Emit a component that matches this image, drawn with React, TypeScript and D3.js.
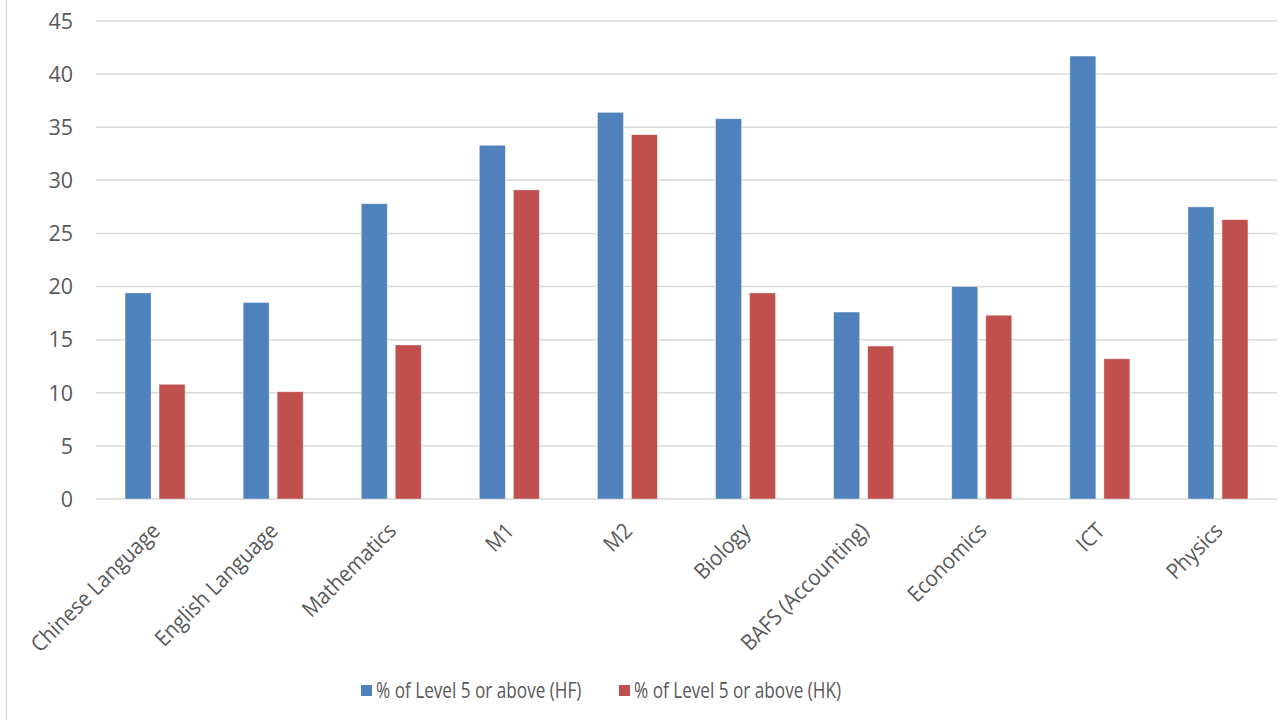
import * as d3 from "d3";

const categories = [
  "Chinese Language",
  "English Language",
  "Mathematics",
  "M1",
  "M2",
  "Biology",
  "BAFS (Accounting)",
  "Economics",
  "ICT",
  "Physics",
];
const seriesNames = ["% of Level 5 or above (HF)", "% of Level 5 or above (HK)"];
const hfValues = [19.4, 18.5, 27.8, 33.3, 36.4, 35.8, 17.6, 20.0, 41.7, 27.5];
const hkValues = [10.8, 10.1, 14.5, 29.1, 34.3, 19.4, 14.4, 17.3, 13.2, 26.3];
const yTicks = [0, 5, 10, 15, 20, 25, 30, 35, 40, 45];

const COLORS = ["#4F81BD", "#C0504D"];
const FONT = "'Open Sans', 'Noto Sans', sans-serif";
const TEXT = "#595959";

const W = 1280;
const H = 720;
const plot = { left: 96, right: 1277, top: 21, bottom: 499 };

export default function App() {
  const x0 = d3
    .scaleBand<string>()
    .domain(categories)
    .range([plot.left, plot.right])
    .paddingInner(0)
    .paddingOuter(0);

  const bw = x0.bandwidth();
  // two bars of ~26px with a ~8px gap, centred in each band
  const x1 = d3
    .scaleBand<string>()
    .domain(seriesNames)
    .range([bw / 2 - 30, bw / 2 + 30])
    .paddingInner(0.235);

  const y = d3.scaleLinear().domain([0, 45]).range([plot.bottom, plot.top]);

  const series = [hfValues, hkValues];

  return (
    <svg
      width={W}
      height={H}
      style={{ position: "fixed", left: 0, top: 0, background: "#fff" }}
      fontFamily={FONT}
    >
      <rect x={0} y={0} width={W} height={H} fill="#fff" />
      <line x1={6.5} x2={6.5} y1={0} y2={H} stroke="#d9d9d9" strokeWidth={1.5} />

      {/* gridlines */}
      {yTicks.map((t) => (
        <line
          key={"g" + t}
          x1={plot.left}
          x2={plot.right}
          y1={y(t)}
          y2={y(t)}
          stroke="#d9d9d9"
          strokeWidth={1.5}
        />
      ))}

      {/* y tick labels */}
      {yTicks.map((t) => (
        <text
          key={"t" + t}
          x={73}
          y={y(t)}
          dy="0.36em"
          textAnchor="end"
          fontSize={21.5}
          fill={TEXT}
        >
          {t}
        </text>
      ))}

      {/* bars */}
      {series.map((vals, si) =>
        categories.map((c, i) => {
          const bx = (x0(c) ?? 0) + (x1(seriesNames[si]) ?? 0);
          return (
            <rect
              key={si + "-" + c}
              x={bx}
              y={y(vals[i])}
              width={x1.bandwidth()}
              height={y(0) - y(vals[i])}
              fill={COLORS[si]}
              stroke="#ffffff"
              strokeOpacity={0.5}
              strokeWidth={0.8}
            />
          );
        })
      )}

      {/* x category labels */}
      {categories.map((c) => {
        const cx = (x0(c) ?? 0) + bw / 2;
        return (
          <text
            key={"x" + c}
            transform={`translate(${cx - 5},${plot.bottom + 22}) rotate(-45) scale(0.92,1)`}
            textAnchor="end"
            dy="0.72em"
            fontSize={22}
            fill={TEXT}
          >
            {c}
          </text>
        );
      })}

      {/* legend */}
      {seriesNames.map((s, i) => {
        const lx = [361, 619][i];
        return (
          <g key={"l" + s}>
            <rect x={lx} y={685} width={11} height={11} fill={COLORS[i]} />
            <text
              transform={`translate(${lx + 15},697.5) scale(0.78,1)`}
              fontSize={22}
              fill={TEXT}
            >
              {s}
            </text>
          </g>
        );
      })}
    </svg>
  );
}
